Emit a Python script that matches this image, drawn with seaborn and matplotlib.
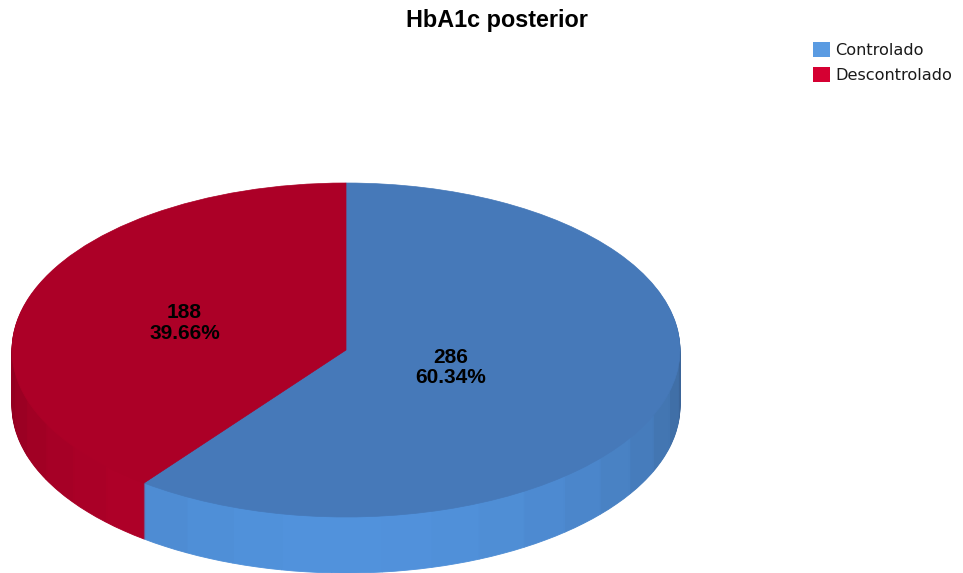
import numpy as np
import matplotlib
matplotlib.use("Agg")
import matplotlib.pyplot as plt
from matplotlib.patches import Patch
from matplotlib.colors import to_rgb
import seaborn as sns

# Data
categories = ["Controlado", "Descontrolado"]
counts = [286, 188]
title = "HbA1c posterior"

# Colours: top face, lit/shaded wall, legend swatches
top_colors = ["#4679B9", "#AC0027"]
side_bright = ["#5192DC", "#B6002A"]
side_dark = ["#3A6396", "#900020"]
legend_colors = ["#5A9BE2", "#D50032"]

sns.set_theme(style="white")
plt.rcParams["font.family"] = ["Liberation Sans", "DejaVu Sans"]

W, H = 963, 573
fig = plt.figure(figsize=(W / 100, H / 100), dpi=100)
ax = fig.add_axes([0, 0, 1, 1])

# y axis runs at half the pixel scale, so a circle renders as a 2:1 ellipse
cx, cy = 346, (H - 350) * 2
radius = 334
depth = 112
start = 90

total = sum(counts)
fracs = np.array(counts) / total
edges = start - 360 * np.concatenate([[0], np.cumsum(fracs)])

# Wall: each slice split into narrow strips shaded by how much they face the viewer
seg_fracs, seg_colors = [], []
for i in range(len(counts)):
    a0, a1 = edges[i], edges[i + 1]
    n = max(1, int(np.ceil((a0 - a1) / 9)))
    bounds = np.linspace(a0, a1, n + 1)
    for b0, b1 in zip(bounds[:-1], bounds[1:]):
        mid = np.radians((b0 + b1) / 2)
        t = float(np.clip(-np.sin(mid), 0, 1)) ** 0.8
        c = np.array(to_rgb(side_dark[i])) * (1 - t) + np.array(to_rgb(side_bright[i])) * t
        seg_fracs.append((b0 - b1) / 360)
        seg_colors.append(tuple(c))

for d in np.arange(depth, 0, -2):
    wedges, _ = ax.pie(seg_fracs, colors=seg_colors, startangle=start,
                       counterclock=False, radius=radius, center=(cx, cy - d),
                       normalize=True)
    for w in wedges:
        w.set_edgecolor(w.get_facecolor())
        w.set_linewidth(0.6)

# Top face
top_wedges, _ = ax.pie(counts, colors=top_colors, startangle=start,
                       counterclock=False, radius=radius, center=(cx, cy))
for w in top_wedges:
    w.set_edgecolor(w.get_facecolor())
    w.set_linewidth(0.5)

# Value labels on the top face
label_dist = [0.33, 0.51]
for i, c in enumerate(counts):
    mid = np.radians((edges[i] + edges[i + 1]) / 2)
    x = cx + radius * label_dist[i] * np.cos(mid)
    y = cy + radius * label_dist[i] * np.sin(mid)
    ax.text(x, y, f"{c}\n{c / total * 100:.2f}%", ha="center", va="center",
            fontsize=15, fontweight="bold", color="black", linespacing=1.1)

ax.set_xlim(0, W)
ax.set_ylim(0, 2 * H)
ax.set_aspect("auto")
ax.axis("off")

fig.text(497 / W, 1 - 21 / H, title, ha="center", va="center",
         fontsize=16.8, fontweight="bold", color="black")

handles = [Patch(facecolor=c, edgecolor="none") for c in legend_colors]
fig.legend(handles, categories, loc="upper left",
           bbox_to_anchor=(813 / W, 1 - 42 / H), frameon=False,
           prop={"family": ["DejaVu Sans"], "size": 11.6},
           handlelength=1.05, handleheight=1.05,
           handletextpad=0.35, labelspacing=0.55, borderpad=0,
           borderaxespad=0, labelcolor="#1a1a1a")

fig.savefig("out.png", dpi=100)
